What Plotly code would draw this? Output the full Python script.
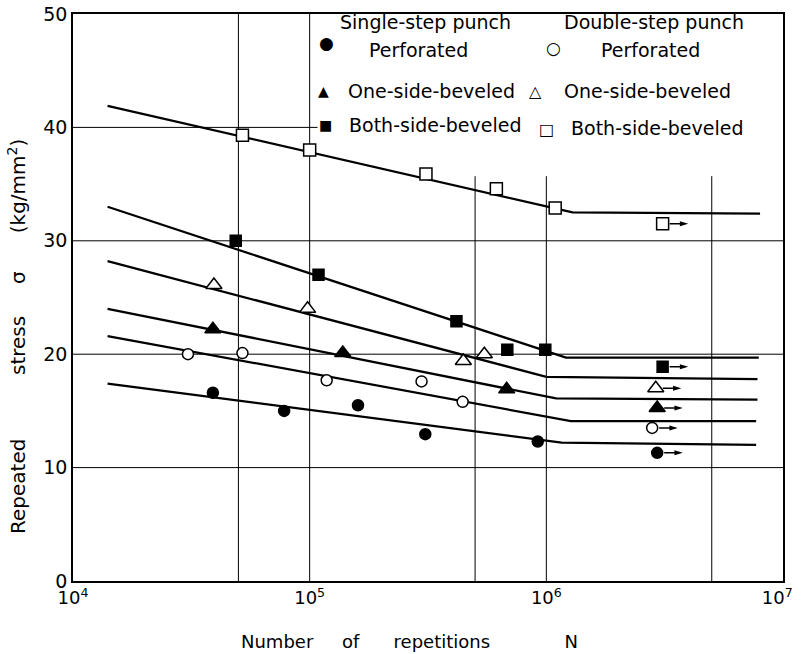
import plotly.graph_objects as go

# ---------------- data ----------------
# Fitted S-N lines (start, knee, end)
line_n = {
    "ds_both": [1.4e4, 1.29e6, 8.0e6],
    "ss_both": [1.4e4, 1.21e6, 7.9e6],
    "ds_one": [1.4e4, 1.0e6, 7.8e6],
    "ss_one": [1.4e4, 1.1e6, 7.8e6],
    "ds_perf": [1.4e4, 1.27e6, 7.7e6],
    "ss_perf": [1.4e4, 1.16e6, 7.7e6],
}
line_s = {
    "ds_both": [41.9, 32.5, 32.4],
    "ss_both": [33.0, 19.7, 19.7],
    "ds_one": [28.2, 18.0, 17.8],
    "ss_one": [24.0, 16.1, 16.0],
    "ds_perf": [21.6, 14.1, 14.1],
    "ss_perf": [17.4, 12.2, 12.0],
}

# Test points
ds_both_n = [5.2e4, 1.0e5, 3.1e5, 6.15e5, 1.09e6]
ds_both_s = [39.3, 38.0, 35.9, 34.6, 32.9]
ss_both_n = [4.87e4, 1.09e5, 4.17e5, 6.84e5, 9.9e5]
ss_both_s = [30.0, 27.0, 22.9, 20.4, 20.4]
ds_one_n = [3.94e4, 9.8e4, 4.46e5, 5.47e5]
ds_one_s = [26.1, 24.0, 19.4, 20.0]
ss_one_n = [3.9e4, 1.38e5, 6.8e5]
ss_one_s = [22.2, 20.1, 16.9]
ds_perf_n = [3.06e4, 5.2e4, 1.18e5, 2.97e5, 4.43e5]
ds_perf_s = [20.0, 20.1, 17.7, 17.6, 15.8]
ss_perf_n = [3.9e4, 7.8e4, 1.6e5, 3.08e5, 9.2e5]
ss_perf_s = [16.6, 15.0, 15.5, 12.95, 12.3]

# Run-out (unbroken) points, marked with arrows
runout_n = {"ds_both": 3.1e6, "ss_both": 3.1e6, "ds_one": 2.9e6,
            "ss_one": 2.94e6, "ds_perf": 2.8e6, "ss_perf": 2.94e6}
runout_s = {"ds_both": 31.5, "ss_both": 18.9, "ds_one": 17.0,
            "ss_one": 15.25, "ds_perf": 13.5, "ss_perf": 11.3}

x_tickvals = [1e4, 1e5, 1e6, 1e7]
x_ticktext = ["10<sup>4</sup>", "10<sup>5</sup>", "10<sup>6</sup>",
              "10<sup>7</sup>\u00a0\u00a0"]
y_tickvals = [0, 10, 20, 30, 40, 50]

# ---------------- figure ----------------
FONT = "DejaVu Sans"
fig = go.Figure()

for key in line_n:
    fig.add_trace(go.Scatter(x=line_n[key], y=line_s[key], mode="lines",
                             line=dict(color="black", width=2.3),
                             showlegend=False, hoverinfo="skip"))

series = [
    ("ds_both", ds_both_n, ds_both_s, "square", 12, "white"),
    ("ss_both", ss_both_n, ss_both_s, "square", 11, "black"),
    ("ds_one", ds_one_n, ds_one_s, "triangle-up", 14, "white"),
    ("ss_one", ss_one_n, ss_one_s, "triangle-up", 14, "black"),
    ("ds_perf", ds_perf_n, ds_perf_s, "circle", 11, "white"),
    ("ss_perf", ss_perf_n, ss_perf_s, "circle", 11, "black"),
]
for key, xs, ys, sym, size, fill in series:
    xs_all = xs + [runout_n[key]]
    ys_all = ys + [runout_s[key]]
    fig.add_trace(go.Scatter(
        x=xs_all, y=ys_all, mode="markers",
        marker=dict(symbol=sym, size=size, color=fill,
                    line=dict(color="black", width=1.5)),
        showlegend=False))
    # run-out arrow to the right of the point
    fig.add_shape(type="path", xref="x", yref="y",
                  xsizemode="pixel", ysizemode="pixel",
                  xanchor=runout_n[key], yanchor=runout_s[key],
                  path="M 7,0 L 20,0 M 18,-1.5 L 23,0 L 18,1.5 Z",
                  line=dict(color="black", width=1.5), fillcolor="black")

# grid lines (partial, as in the original)
gl = dict(color="black", width=1)
for v in [10, 20, 30]:
    fig.add_shape(type="line", x0=1e4, x1=1e7, y0=v, y1=v, xref="x", yref="y", line=gl, layer="below")
fig.add_shape(type="line", x0=1e4, x1=1.08e5, y0=40, y1=40, xref="x", yref="y", line=gl, layer="below")
for v in [5e4, 1e5]:
    fig.add_shape(type="line", x0=v, x1=v, y0=0, y1=50, xref="x", yref="y", line=gl, layer="below")
for v in [5e5, 1e6, 5e6]:
    fig.add_shape(type="line", x0=v, x1=v, y0=0, y1=35.7, xref="x", yref="y", line=gl, layer="below")

# legend text (as annotations)
def px(xp):
    return (xp - 73) / 710.0

def py(yp):
    return (581 - yp) / 567.0

leg_font = dict(family=FONT, size=19, color="black")
legend_items = [
    (425, 22, "Single-step punch"),
    (418, 50, "Perforated"),
    (654, 22, "Double-step punch"),
    (650, 50, "Perforated"),
    (431, 91, "One-side-beveled"),
    (647, 91, "One-side-beveled"),
    (435, 125, "Both-side-beveled"),
    (657, 128, "Both-side-beveled"),
]
for xp, yp, t in legend_items:
    fig.add_annotation(x=px(xp), y=py(yp), xref="paper", yref="paper", text=t,
                       showarrow=False, font=leg_font, xanchor="center", yanchor="middle")

sym_items = [
    (326, 43, "●", 17), (553, 48, "○", 17),
    (323, 91, "▲", 14), (535, 91, "△", 16),
    (325, 125, "■", 14), (546, 129, "□", 16),
]
for xp, yp, t, s in sym_items:
    fig.add_annotation(x=px(xp), y=py(yp), xref="paper", yref="paper", text=t,
                       showarrow=False, font=dict(family=FONT, size=s, color="black"),
                       xanchor="center", yanchor="middle")

# axis titles
nb = "\u00a0"
fig.add_annotation(x=px(17), y=py(337), xref="paper", yref="paper",
                   text=f"Repeated{nb*10}stress{nb*5}σ{nb*6}(kg/mm<sup>2</sup>)",
                   textangle=-90, showarrow=False,
                   font=dict(family=FONT, size=20, color="black"),
                   xanchor="center", yanchor="middle")
fig.add_annotation(x=px(409), y=py(641), xref="paper", yref="paper",
                   text=f"Number{nb*5}of{nb*6}repetitions{nb*13}N",
                   showarrow=False, font=dict(family=FONT, size=18, color="black"),
                   xanchor="center", yanchor="middle")

fig.update_xaxes(type="log", range=[4, 7], tickvals=x_tickvals, ticktext=x_ticktext,
                 showgrid=False, zeroline=False, showline=True, linecolor="black",
                 linewidth=1.5, mirror=True, ticks="", automargin=False,
                 ticklabeloverflow="allow",
                 tickfont=dict(family=FONT, size=18, color="black"))
fig.update_yaxes(range=[0, 50], tickvals=y_tickvals, showgrid=False, zeroline=False,
                 showline=True, linecolor="black", linewidth=1.5, mirror=True, ticks="",
                 automargin=False,
                 tickfont=dict(family=FONT, size=19, color="black"))

fig.update_layout(width=803, height=654, margin=dict(l=73, r=20, t=14, b=73),
                  plot_bgcolor="white", paper_bgcolor="white", showlegend=False)

fig.write_html("out.html", config={"displayModeBar": False},
               post_script="document.body.style.margin='0';document.body.style.overflow='hidden';")
